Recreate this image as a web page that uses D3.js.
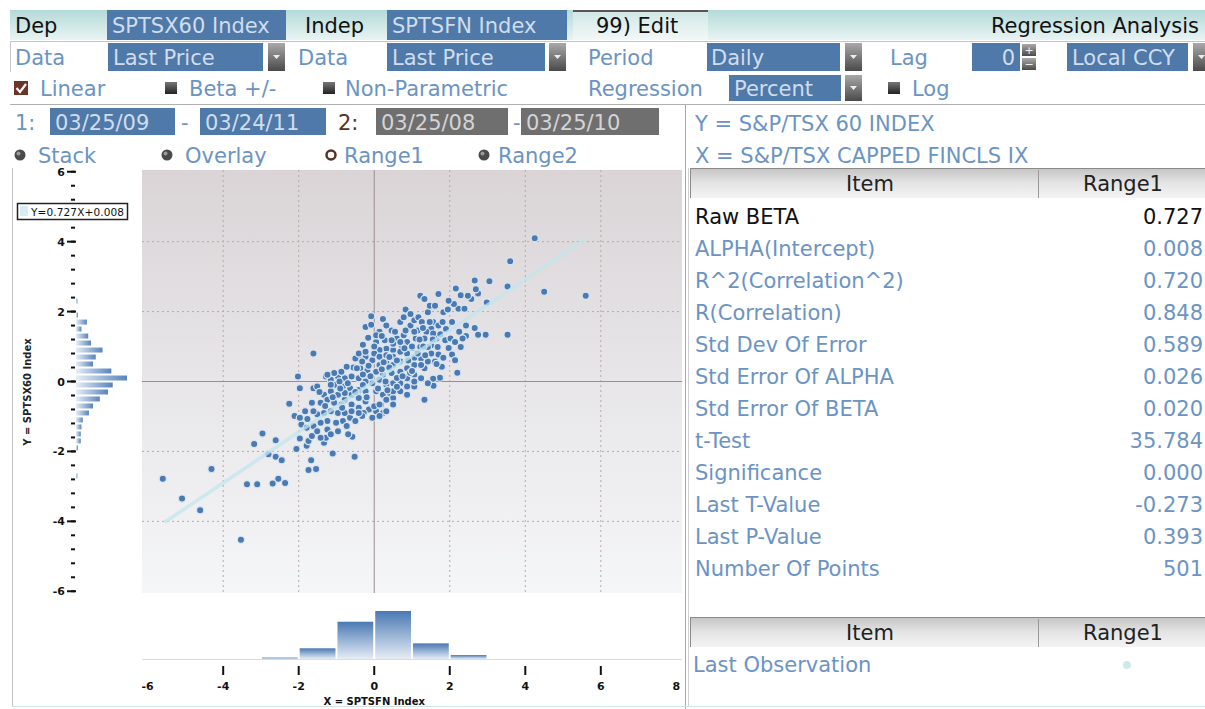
<!DOCTYPE html>
<html>
<head>
<meta charset="utf-8">
<script src="https://cdn.jsdelivr.net/npm/d3@7"></script>
<style>
  body { margin: 0; background: #fff; overflow: hidden; }
  svg { display: block; font-family: "DejaVu Sans", sans-serif; }
</style>
</head>
<body>
<svg id="chart" width="1205" height="709"></svg>
<script>
// ---- data ----
var beta = 0.727, alpha = 0.008;
var lineRange = [-5.55, 5.62];

// daily % moves (x = SPTSFN, y = SPTSX60)
var points = [
  [4.25,4.10],[3.60,3.44],[4.50,2.57],[5.60,2.45],[3.53,2.72],[3.05,2.87],[2.66,2.89],[3.53,1.34],
  [2.95,1.34],[2.75,1.34],[2.43,1.30],[2.16,2.66],[2.29,2.47],[2.57,2.36],[2.75,2.52],[2.69,2.64],
  [2.98,2.26],[2.66,1.53],[1.70,2.50],[1.22,2.45],[2.20,0.25],[1.57,-0.12],[1.33,-0.52],[-1.61,0.80],
  [-2.02,0.14],[-2.25,-0.64],[-2.96,-1.49],[-3.18,-1.79],[-2.61,-1.68],[-2.80,-2.08],[-2.61,-2.15],
  [-2.45,-2.25],[-4.31,-2.50],[-5.60,-2.78],[-5.09,-3.35],[-4.61,-3.68],[-3.53,-4.53],[-3.37,-2.94],
  [-3.10,-2.94],[-2.69,-2.92],[-2.54,-2.78],[-2.36,-2.90],[-1.74,-2.53],[-1.54,-2.50],[-1.67,-2.25],
  [-2.06,-1.93],[-1.79,-1.84],[-1.97,-1.63],[-1.74,-1.70],[-1.65,-1.56],[-1.33,-1.75],[-1.10,-2.06],
  [-0.52,-2.15],[-0.58,-1.58],[-1.28,-1.61],[-2.11,-0.99],[-1.93,-1.23],[-1.77,-1.07],[-1.97,-0.19],
  [-1.61,-0.19],[-1.28,0.14],
  [-0.08,1.87],[-0.23,1.56],[-0.08,1.62],[0.23,1.79],[-0.16,1.25],[0.05,1.13],[0.46,1.46],[0.69,1.70],
  [0.83,2.06],[0.96,1.60],[1.06,1.75],[1.17,1.84],[1.42,1.98],[1.47,2.17],[1.26,1.70],[1.56,1.70],
  [1.70,1.60],[1.83,1.98],[1.95,2.06],[2.23,2.08],[2.06,1.70],[1.81,1.70],[1.51,1.51],[1.38,1.42],
  [1.15,1.46],[0.78,1.32],[0.60,1.23],[0.55,1.42],[0.87,1.13],[1.10,1.23],[1.33,1.23],[1.01,0.96],
  [1.22,0.99],[1.51,1.04],[1.68,0.99],[1.88,1.18],[2.02,1.23],[2.14,1.13],[2.29,0.99],[1.97,0.96],
  [1.70,0.77],[1.83,0.68],[2.06,0.77],[2.14,0.61],[1.79,0.42],[1.74,0.11],[1.56,0.08],[1.33,0.38],
  [1.24,0.66],[1.06,0.68],[0.87,0.80],[0.69,0.85],[0.50,0.90],[0.32,0.94],[0.14,0.90],[0.28,1.18],
  [0.50,1.08],[0.69,0.57],[0.50,0.47],[0.32,0.57],[0.14,0.47],[-0.05,0.61],[-0.23,0.71],[-0.41,0.66],
  [-0.55,0.40],[-0.37,0.38],[-0.18,0.33],[0.05,0.28],[0.23,0.19],[0.46,0.24],[0.69,0.28],[0.87,0.38],
  [1.06,0.47],[1.06,0.19],[0.87,0.09],[0.69,-0.05],[0.87,-0.14],[1.06,-0.14],[0.50,-0.05],[0.32,-0.09],
  [0.14,0.05],[-0.05,-0.05],[-0.23,0.00],[-0.41,0.09],[-0.60,0.14],[-0.78,0.09],[-0.96,0.14],[-1.15,0.05],
  [-1.01,-0.09],[-0.83,-0.14],[-0.64,-0.19],[-0.41,-0.24],[-0.23,-0.28],[0.05,-0.28],[0.23,-0.38],
  [0.41,-0.33],[0.50,-0.47],[0.50,-0.66],[0.23,-0.90],[0.05,-0.85],[-0.14,-0.80],[-0.28,-0.90],
  [-0.41,-0.75],[-0.60,-0.66],[-0.78,-0.52],[-0.96,-0.38],[-1.15,-0.28],[-1.33,-0.38],[-1.42,-0.61],
  [-1.24,-0.52],[-1.06,-0.61],[-0.87,-0.66],[-1.15,-0.85],[-1.33,-0.90],[-1.51,-0.94],[-0.96,-0.90],
  [-0.78,-0.90],[-0.64,-1.04],[-0.83,-1.13],[-1.01,-1.18],[-1.24,-1.13],[-1.42,-1.18],[-1.61,-1.27],
  [-1.24,-1.37],[-0.73,-1.27],[-0.50,-1.13],[-0.32,-0.99],[-0.05,-1.04],[0.14,-0.99],[0.00,-0.71],
  [0.18,-0.66],[0.32,-0.52],[-0.23,-0.57],[-0.41,-0.47],[-0.60,-0.38],[-0.78,-0.33],[-0.92,0.00],
  [-1.06,0.24],[-1.24,0.19],[-0.87,0.28],[-0.73,0.42],[-0.46,0.38],[-0.32,0.57],[-0.50,0.66],
  [-0.41,0.80],[-0.23,0.85],[0.00,0.80],[0.14,0.71],[0.32,0.75],[0.50,0.71],[0.73,1.04],[0.83,1.46],
  [1.06,1.42],[1.29,1.53],[1.47,1.70],[0.78,1.84],[0.32,1.60],[0.14,1.42],[0.05,1.32],[0.46,1.18],
  [0.69,1.13],[-1.15,-0.09],[-1.51,-0.14],[-1.65,-0.61],[-1.61,-0.85],[-1.83,-0.85],[-1.97,-1.04],
  [-1.51,-1.42],[-1.42,-1.61],[-1.15,-1.51],[-0.96,-1.42],[-1.79,-1.32],[-0.69,-1.51],[-0.41,-0.90],
  [0.14,-0.66],[0.32,-0.85],[0.50,-0.28],[0.69,-0.28],[0.87,-0.38],[1.06,0.00],[1.24,0.09],[1.42,-0.05],
  [1.24,0.47],[1.42,0.57],[1.61,0.57],[1.51,0.80],[1.42,0.99],[1.65,1.23],[1.56,1.37],[2.25,1.42],
  [2.34,1.23],[2.43,1.60],[2.11,2.22],[1.97,2.31],[2.48,2.45],[2.39,2.08],[1.61,2.17],[1.33,2.36],
  [0.96,1.93],
  [0.30,0.00],[0.60,0.10],[0.40,0.40],[0.60,0.60],[0.90,0.60],[1.00,1.00],[1.20,1.20],[0.80,0.95],
  [0.20,0.35],[-0.10,0.15],[-0.30,-0.10],[-0.50,-0.30],[-0.70,-0.05],[-0.90,-0.20],[-1.10,-0.45],
  [-0.30,0.20],[0.10,-0.20],[0.35,-0.25],[0.75,0.15],[0.95,0.25],[1.15,0.80],[1.35,0.75],[1.55,1.20],
  [1.75,1.35],[1.90,1.50],[0.40,0.70],[0.00,1.00],[-0.30,1.05],[0.20,1.30],[-0.60,-0.85],[-0.20,-0.45],
  [-0.85,-0.75],[-1.30,-0.70],[-1.45,-0.30],[0.60,-0.15],[0.25,0.55],[1.30,1.00],[1.65,0.50],[1.00,0.30],
  [-0.15,0.45]
];

// x histogram (bins of 1%)
var xBinLo = [-3, -2, -1, 0, 1, 2];
var xBinCount = [6, 46, 160, 206, 67, 17];

// y histogram (bins of 0.2%)
var yBinMid = [2.3, 1.9, 1.7, 1.5, 1.3, 1.1, 0.9, 0.7, 0.5, 0.3, 0.1, -0.1, -0.3, -0.5, -0.7, -0.9, -1.1, -1.3, -1.5, -1.7, -1.9, -2.7];
var yBinCount = [2, 3, 16, 8, 18, 22, 39, 29, 25, 52, 75, 54, 47, 35, 25, 19, 10, 8, 7, 7, 3, 2];

var xTickLabels = [-6, -4, -2, 0, 2, 4, 6, 8];
var xTickMarks = [-4, -2, 0, 2, 4, 6];
var yTickLabels = [6, 4, 2, 0, -2, -4, -6];
var gridVals = [-4, -2, 2, 4, 6];
var gridValsY = [-4, -2, 2, 4];

var statNames = ["Raw BETA", "ALPHA(Intercept)", "R^2(Correlation^2)", "R(Correlation)", "Std Dev Of Error",
  "Std Error Of ALPHA", "Std Error Of BETA", "t-Test", "Significance", "Last T-Value", "Last P-Value", "Number Of Points"];
var statValues = ["0.727", "0.008", "0.720", "0.848", "0.589", "0.026", "0.020", "35.784", "0.000", "-0.273", "0.393", "501"];

// ---- colours ----
var BLUE_TXT = "#6b93c3", BOX = "#4f79a8", BOX_TXT = "#cfdded";

var svg = d3.select("#chart");
var defs = svg.append("defs");

function vgrad(id, stops, horiz) {
  var g = defs.append("linearGradient").attr("id", id)
    .attr("x1", 0).attr("y1", 0).attr("x2", horiz ? 1 : 0).attr("y2", horiz ? 0 : 1);
  stops.forEach(function(s){ g.append("stop").attr("offset", s[0]).attr("stop-color", s[1]); });
}
vgrad("teal", [[0, "#b3dad8"], [1, "#e8f4f3"]]);
vgrad("editg", [[0, "#cfe7e5"], [1, "#f2f8f7"]]);
vgrad("dd", [[0, "#a9a9a9"], [1, "#4a4a4a"]]);
vgrad("sq", [[0, "#777"], [1, "#222"]]);
vgrad("thead", [[0, "#c4c4c4"], [0.5, "#e4e4e4"], [1, "#f4f4f4"]]);
vgrad("plotbg", [[0, "#dad4d6"], [0.45, "#e6e4e7"], [1, "#f5f6f8"]]);
vgrad("xbar", [[0, "#4a79b3"], [1, "#e6edf6"]]);
vgrad("ybar", [[0, "#e8eef7"], [1, "#5784bc"]], true);

function txt(x, y, s, col, opt) {
  opt = opt || {};
  return svg.append("text").attr("x", x).attr("y", y).text(s)
    .attr("fill", col).attr("font-size", opt.size || 21)
    .attr("text-anchor", opt.anchor || "start")
    .attr("font-weight", opt.weight || "normal");
}
function box(x0, x1, y0, y1, fill) {
  svg.append("rect").attr("x", x0).attr("y", y0).attr("width", x1 - x0).attr("height", y1 - y0).attr("fill", fill);
}
function dropdown(x0, y0, y1) {
  box(x0, x0 + 17, y0, y1, "url(#dd)");
  var cy = (y0 + y1) / 2;
  svg.append("path").attr("d", "M" + (x0 + 5) + "," + (cy - 2) + "h7l-3.5,4z").attr("fill", "#eee");
}
function square(x, y) {
  svg.append("rect").attr("x", x).attr("y", y).attr("width", 12).attr("height", 12).attr("fill", "url(#sq)");
}
function radio(cx, cy, on) {
  if (on) {
    svg.append("circle").attr("cx", cx).attr("cy", cy).attr("r", 4.5).attr("fill", "#fff")
      .attr("stroke", "#5a3026").attr("stroke-width", 2.5);
  } else {
    svg.append("circle").attr("cx", cx).attr("cy", cy).attr("r", 5.5).attr("fill", "#4a4a4a");
    svg.append("circle").attr("cx", cx - 1.5).attr("cy", cy - 1.5).attr("r", 2).attr("fill", "#9a9a9a");
  }
}

// ---- header row 1 ----
box(10, 1205, 10, 40, "url(#teal)");
box(573, 708, 10, 40, "url(#editg)");
svg.append("line").attr("x1", 573).attr("x2", 708).attr("y1", 11).attr("y2", 11).attr("stroke", "#555").attr("stroke-width", 2);
txt(15, 33, "Dep", "#111");
box(107, 286, 10, 40, BOX); txt(112, 33, "SPTSX60 Index", BOX_TXT);
txt(305, 33, "Indep", "#111");
box(387, 567, 10, 40, BOX); txt(392, 33, "SPTSFN Index", BOX_TXT);
txt(596, 33, "99) Edit", "#111");
txt(1199, 33, "Regression Analysis", "#111", {anchor: "end"});

// ---- row 2 ----
svg.append("path").attr("d", "M10.5,72V41.5H1205").attr("fill", "none").attr("stroke", "#c6c6c6");
txt(15, 65, "Data", BLUE_TXT);
box(108, 263, 43, 71, BOX); txt(113, 65, "Last Price", BOX_TXT); dropdown(268, 43, 71);
txt(298, 65, "Data", BLUE_TXT);
box(387, 545, 43, 71, BOX); txt(392, 65, "Last Price", BOX_TXT); dropdown(549, 43, 71);
txt(588, 65, "Period", BLUE_TXT);
box(707, 840, 43, 71, BOX); txt(711, 65, "Daily", BOX_TXT); dropdown(845, 43, 71);
txt(890, 65, "Lag", BLUE_TXT);
box(972, 1020, 43, 71, BOX); txt(1015, 65, "0", BOX_TXT, {anchor: "end"});
box(1022, 1036, 44, 56, "url(#dd)"); box(1022, 1036, 58, 70, "url(#dd)");
txt(1029, 54, "+", "#eee", {size: 11, anchor: "middle"}); txt(1029, 68, "\u2212", "#eee", {size: 11, anchor: "middle"});
box(1067, 1188, 43, 71, BOX); txt(1072, 65, "Local CCY", BOX_TXT); dropdown(1193, 43, 71);

// ---- row 3 ----
box(14, 28, 81, 95, "#6b3426");
svg.append("path").attr("d", "M16.5,88l3.5,4l6,-8").attr("fill", "none").attr("stroke", "#fff").attr("stroke-width", 2.2);
txt(40, 96, "Linear", BLUE_TXT);
square(165, 82); txt(189, 96, "Beta +/-", BLUE_TXT);
square(323, 82); txt(345, 96, "Non-Parametric", BLUE_TXT);
txt(588, 96, "Regression", BLUE_TXT);
box(729, 841, 75, 101, BOX); txt(734, 96, "Percent", BOX_TXT); dropdown(845, 75, 101);
square(888, 82); txt(912, 96, "Log", BLUE_TXT);
svg.append("line").attr("x1", 10).attr("x2", 1205).attr("y1", 104.5).attr("y2", 104.5).attr("stroke", "#b0b0b0");

// ---- row 4 : date ranges ----
txt(15, 130, "1:", BLUE_TXT);
box(50, 175, 108, 135, BOX); txt(55, 130, "03/25/09", BOX_TXT);
txt(181, 130, "-", BLUE_TXT);
box(200, 326, 108, 135, BOX); txt(205, 130, "03/24/11", BOX_TXT);
txt(338, 130, "2:", "#5a3020");
box(376, 508, 108, 135, "#6f6f6f"); txt(381, 130, "03/25/08", "#d4d4d4");
txt(513, 130, "-", BLUE_TXT);
box(521, 659, 108, 135, "#6f6f6f"); txt(526, 130, "03/25/10", "#d4d4d4");

// ---- row 5 : radios ----
radio(20, 155, false); txt(38, 163, "Stack", BLUE_TXT);
radio(167, 155, false); txt(185, 163, "Overlay", BLUE_TXT);
radio(331, 155, true); txt(344, 163, "Range1", BLUE_TXT);
radio(484, 155, false); txt(498, 163, "Range2", BLUE_TXT);

// ---- right panel ----
svg.append("line").attr("x1", 685.5).attr("x2", 685.5).attr("y1", 105).attr("y2", 709).attr("stroke", "#a8a8a8");
svg.append("line").attr("x1", 688.5).attr("x2", 688.5).attr("y1", 168).attr("y2", 706).attr("stroke", "#d0d0d0");
txt(695, 131, "Y = S&P/TSX 60 INDEX", BLUE_TXT);
txt(695, 163, "X = S&P/TSX CAPPED FINCLS IX", BLUE_TXT);

function tableHead(y0) {
  box(690, 1205, y0, y0 + 30, "url(#thead)");
  svg.append("line").attr("x1", 690).attr("x2", 1205).attr("y1", y0 + 0.5).attr("y2", y0 + 0.5).attr("stroke", "#8a8a8a");
  svg.append("line").attr("x1", 690.5).attr("x2", 690.5).attr("y1", y0).attr("y2", y0 + 30).attr("stroke", "#8a8a8a");
  svg.append("line").attr("x1", 1038.5).attr("x2", 1038.5).attr("y1", y0 + 2).attr("y2", y0 + 30).attr("stroke", "#999");
  txt(870, y0 + 23, "Item", "#222", {anchor: "middle"});
  txt(1123, y0 + 23, "Range1", "#222", {anchor: "middle"});
}
tableHead(168);
statNames.forEach(function(n, i) {
  var col = i === 0 ? "#111" : BLUE_TXT;
  txt(695, 224 + 32 * i, n, col);
  txt(1203, 224 + 32 * i, statValues[i], col, {anchor: "end"});
});
tableHead(617);
txt(693, 672, "Last Observation", BLUE_TXT);
svg.append("circle").attr("cx", 1127).attr("cy", 665).attr("r", 4).attr("fill", "#cfe8f0");
svg.append("line").attr("x1", 12).attr("x2", 1205).attr("y1", 706.5).attr("y2", 706.5).attr("stroke", "#cfe3e8");

// ---- left panel ----
svg.append("line").attr("x1", 12.5).attr("x2", 12.5).attr("y1", 168).attr("y2", 706).attr("stroke", "#c4c4c4");

var x = d3.scaleLinear().domain([-6.15, 8.15]).range([142, 682]);
var y = d3.scaleLinear().domain([-6.05, 6.05]).range([593, 170]);

var plot = svg.append("g");
plot.append("rect").attr("x", x.range()[0]).attr("y", y.range()[1])
  .attr("width", x.range()[1] - x.range()[0]).attr("height", y.range()[0] - y.range()[1])
  .attr("fill", "url(#plotbg)");

plot.selectAll(".gx").data(gridVals).enter().append("line")
  .attr("x1", function(d){ return x(d); }).attr("x2", function(d){ return x(d); })
  .attr("y1", y.range()[1]).attr("y2", y.range()[0])
  .attr("stroke", "#b9a9a9").attr("stroke-dasharray", "2,3");
plot.selectAll(".gy").data(gridValsY).enter().append("line")
  .attr("y1", function(d){ return y(d); }).attr("y2", function(d){ return y(d); })
  .attr("x1", x.range()[0]).attr("x2", x.range()[1])
  .attr("stroke", "#b9a9a9").attr("stroke-dasharray", "2,3");
plot.append("line").attr("x1", x(0)).attr("x2", x(0)).attr("y1", y.range()[1]).attr("y2", y.range()[0]).attr("stroke", "#9c8e8e");
plot.append("line").attr("y1", y(0)).attr("y2", y(0)).attr("x1", x.range()[0]).attr("x2", x.range()[1]).attr("stroke", "#9c8e8e");

plot.selectAll(".pt").data(points).enter().append("circle")
  .attr("cx", function(d){ return x(d[0]); })
  .attr("cy", function(d){ return y(d[1]); })
  .attr("r", 3.6)
  .attr("fill", "#4b7ab2")
  .attr("stroke", "#dbe7f3").attr("stroke-width", 1.2);

plot.append("line")
  .attr("x1", x(lineRange[0])).attr("y1", y(beta * lineRange[0] + alpha))
  .attr("x2", x(lineRange[1])).attr("y2", y(beta * lineRange[1] + alpha))
  .attr("stroke", "#c3e6ee").attr("stroke-width", 3.5).attr("opacity", 0.75);

// y axis
var yMinor = d3.range(-6, 6.001, 0.4);
svg.selectAll(".ymin").data(yMinor).enter().append("line")
  .attr("x1", 71).attr("x2", 75)
  .attr("y1", function(d){ return y(d); }).attr("y2", function(d){ return y(d); })
  .attr("stroke", "#111").attr("stroke-width", 2);
svg.selectAll(".ymaj").data(yTickLabels).enter().append("line")
  .attr("x1", 67).attr("x2", 76)
  .attr("y1", function(d){ return y(d); }).attr("y2", function(d){ return y(d); })
  .attr("stroke", "#111").attr("stroke-width", 2);
svg.selectAll(".ylab").data(yTickLabels).enter().append("text")
  .attr("x", 65).attr("y", function(d){ return y(d) + 4; })
  .attr("text-anchor", "end").attr("font-size", 11).attr("font-weight", "bold").attr("fill", "#111")
  .text(function(d){ return d; });
svg.append("text").attr("transform", "translate(31,392) rotate(-90)")
  .attr("text-anchor", "middle").attr("font-size", 10).attr("font-weight", "bold").attr("fill", "#222")
  .text("Y = SPTSX60 Index");

// equation box (drawn over the axis ticks)
box(17, 127, 203, 219, "#fff");
svg.append("rect").attr("x", 17.5).attr("y", 203.5).attr("width", 110).attr("height", 16)
  .attr("fill", "none").attr("stroke", "#222").attr("stroke-width", 1.5);
box(20, 28, 206, 216, "#d6edf3");
txt(31, 215.5, "Y=" + beta + "X+" + alpha.toFixed(3), "#111", {size: 10.5}).attr("textLength", 93);

// y histogram (left)
var yLen = d3.scaleLinear().domain([0, 75]).range([0, 51]);
svg.selectAll(".yb").data(yBinMid).enter().append("rect")
  .attr("x", 76)
  .attr("y", function(d){ return y(d + 0.1) + 1; })
  .attr("height", function(d){ return y(d - 0.1) - y(d + 0.1) - 2; })
  .attr("width", function(d, i){ return yLen(yBinCount[i]); })
  .attr("fill", "url(#ybar)");

// x histogram (bottom)
var base = 659;
var xLen = d3.scaleLinear().domain([0, 206]).range([0, 48]);
svg.append("line").attr("x1", 142).attr("x2", 682).attr("y1", base + 0.5).attr("y2", base + 0.5).attr("stroke", "#dcdcdc");
svg.selectAll(".xb").data(xBinLo).enter().append("rect")
  .attr("x", function(d){ return x(d) + 1; })
  .attr("width", function(d){ return x(d + 1) - x(d) - 2; })
  .attr("y", function(d, i){ return base - xLen(xBinCount[i]); })
  .attr("height", function(d, i){ return xLen(xBinCount[i]); })
  .attr("fill", "url(#xbar)");

// x axis
svg.selectAll(".xt").data(xTickMarks).enter().append("line")
  .attr("x1", function(d){ return x(d); }).attr("x2", function(d){ return x(d); })
  .attr("y1", 666).attr("y2", 675).attr("stroke", "#111").attr("stroke-width", 2);
svg.selectAll(".xl").data(xTickLabels).enter().append("text")
  .attr("x", function(d){ return x(d); }).attr("y", 690)
  .attr("text-anchor", "middle").attr("font-size", 11).attr("font-weight", "bold").attr("fill", "#111")
  .text(function(d){ return d; });
svg.append("text").attr("x", x(0)).attr("y", 705)
  .attr("text-anchor", "middle").attr("font-size", 10).attr("font-weight", "bold").attr("fill", "#111")
  .text("X = SPTSFN Index");
</script>
</body>
</html>
